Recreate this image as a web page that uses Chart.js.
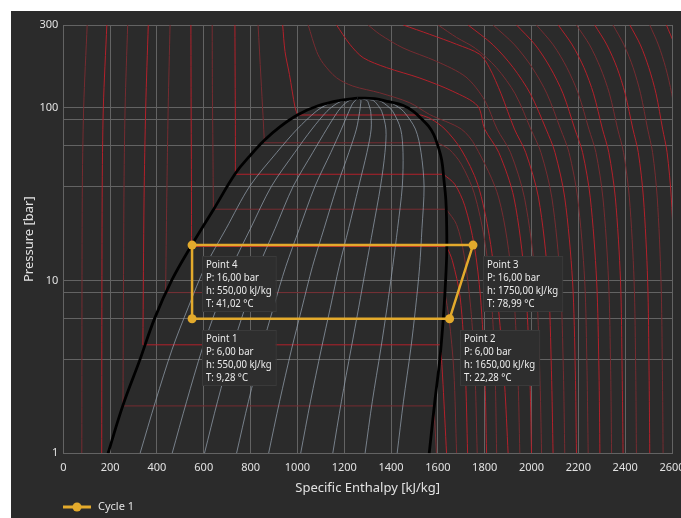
<!DOCTYPE html>
<html><head><meta charset="utf-8">
<script src="https://cdn.jsdelivr.net/npm/chart.js@4/dist/chart.umd.min.js"></script>
<style>
html,body{margin:0;padding:0;background:#fff;}
#wrap{position:absolute;left:11px;top:11px;width:670px;height:507px;background:#2b2b2b;}
canvas{display:block;}
</style></head><body>
<div id="wrap"><canvas id="c" width="670" height="507"></canvas></div>
<script>
// ---- axis ticks ----
const xMin = 0, xMax = 2600, xStep = 200;
const yGridValues = [1, 3.5, 6, 8.5, 10, 35, 60, 85, 100, 300];
const yLabelValues = [1, 10, 100, 300];

// ---- refrigeration cycle ----
const pointNames = ['Point 1', 'Point 2', 'Point 3', 'Point 4'];
const cycleH = [550, 1650, 1750, 550];
const cycleP = [6, 6, 16, 16];
const cycleT = [9.28, 22.28, 78.99, 41.02];

// ---- saturation dome [h, P] ----
const domeLiquid = [[191,1],[255,1.9],[327,3.47],[391,6.07],[464,10.07],[549,16.05],[643,25.9],[737,41.9],[797,52.5],[861,65],[925,77.3],[1002,90.8],[1088,102.3],[1182,110.1],[1258,113.3]];
const domeVapor = [[1258,113.3],[1330,112.5],[1390,108],[1450,103],[1495,95],[1530,86],[1560,78],[1582,70],[1600,60],[1616,49.8],[1626,38],[1634,29.2],[1637,22.4],[1638,15],[1633,10],[1623,6],[1608,3.47],[1587,2],[1563,1]];

// ---- vapour quality lines [h, P] ----
const q10 = [[328,1],[394,2],[465,4],[534,7],[606,12],[696,20],[796,35],[912,55],[999,75],[1080,95],[1132,105],[1175,110],[1258,113.3]];
const q20 = [[465,1],[527,2],[593,4],[656,7],[721,12],[800,20],[889,35],[989,55],[1062,75],[1126,95],[1166,105],[1199,110],[1258,113.3]];
const q30 = [[603,1],[659,2],[720,4],[777,7],[835,12],[905,20],[982,35],[1066,55],[1125,75],[1173,95],[1201,105],[1224,110],[1258,113.3]];
const q40 = [[740,1],[791,2],[847,4],[898,7],[950,12],[1009,20],[1075,35],[1143,55],[1188,75],[1220,95],[1235,105],[1248,110],[1258,113.3]];
const q50 = [[877,1],[924,2],[975,4],[1020,7],[1064,12],[1114,20],[1169,35],[1220,55],[1252,75],[1266,95],[1270,105],[1271,110],[1258,113.3]];
const q60 = [[1014,1],[1056,2],[1102,4],[1141,7],[1178,12],[1219,20],[1262,35],[1297,55],[1315,75],[1313,95],[1304,105],[1297,110],[1258,113.3]];
const q70 = [[1151,1],[1188,2],[1229,4],[1262,7],[1293,12],[1323,20],[1355,35],[1374,55],[1378,75],[1360,95],[1339,105],[1322,110],[1258,113.3]];
const q80 = [[1289,1],[1320,2],[1356,4],[1383,7],[1407,12],[1428,20],[1448,35],[1451,55],[1441,75],[1407,95],[1373,105],[1346,110],[1258,113.3]];
const q90 = [[1426,1],[1453,2],[1484,4],[1505,7],[1522,12],[1532,20],[1541,35],[1528,55],[1504,75],[1453,95],[1408,105],[1371,110],[1258,113.3]];

// ---- isotherms [h, P]  (L = liquid, S = saturated, V = vapour) ----
const tm60 = [[79,1],[81,30],[87,100],[102,300]];
const tm40 = [[164,1],[166,30],[171,100],[186,300]];
const tm20L = [[255,1.88],[259,30],[264,100],[275,300]];
const tm20S = [[255,1.88],[1583,1.88]];
const tm20V = [[1583,1.88],[1594,1]];
const t0L = [[340,4.24],[345,30],[352,100],[363,300]];
const t0S = [[340,4.24],[1612,4.24]];
const t0V = [[1612,4.24],[1622,2.5],[1637,1]];
const t20L = [[437,8.5],[442,30],[448,100],[456,300]];
const t20S = [[437,8.5],[1630,8.5]];
const t20V = [[1630,8.5],[1648,6],[1668,3],[1680,1]];
const t40L = [[548,15.7],[547,50],[546,100],[545,300]];
const t40S = [[548,15.7],[1638,15.7]];
const t40V = [[1638,15.7],[1662,13],[1695,8],[1717,3],[1727,1]];
const t60L = [[641,25.8],[639,60],[637,120],[636,300]];
const t60S = [[641,25.8],[1636,25.8]];
const t60V = [[1636,25.8],[1680,21],[1712,14],[1740,7],[1758,3],[1768,1]];
const t80L = [[735,41.1],[735,80],[734,150],[733,300]];
const t80S = [[735,41.1],[1624,41.1]];
const t80V = [[1624,41.1],[1672,36],[1715,27],[1755,16],[1782,8],[1800,3],[1808,1]];
const t100L = [[859,62.5],[853,90],[844,150],[832,300]];
const t100S = [[859,62.5],[1600,62.5]];
const t100V = [[1600,62.5],[1650,57],[1700,47],[1755,32],[1800,17],[1828,8],[1844,3],[1851,1]];
const t120L = [[1001,90.5],[990,100],[966,155],[947,211],[937,300]];
const t120S = [[1001,90.5],[1528,90.5]];
const t120V = [[1528,90.5],[1570,86],[1630,75],[1700,57],[1770,36],[1820,18],[1858,7],[1885,2.5],[1900,1]];
const t140 = [[1950,1],[1941,3],[1918,10],[1860,30],[1760,60],[1700,75],[1565,91],[1480,106.5],[1352,121.5],[1237,133],[1167,148.6],[1110,180],[1082,211],[1046,300]];
const t160 = [[2000,1],[1992,3],[1972,10],[1925,30],[1860,55],[1800,75],[1770,102],[1664,124],[1523,148],[1381,170],[1281,194],[1224,232],[1167,300]];
const t180 = [[2043,1],[2035,3],[2018,10],[1970,30],[1910,55],[1853,75],[1800,110],[1720,150],[1594,185],[1451,221],[1352,265],[1302,300]];
const t200 = [[2092,1],[2085,3],[2071,10],[2030,30],[1975,55],[1927,75],[1870,120],[1820,170],[1779,203],[1680,232],[1565,265],[1452,300]];
const t220 = [[2142,1],[2136,3],[2123,10],[2087,30],[2040,55],[1997,75],[1930,120],[1850,170],[1760,220],[1680,254],[1601,300]];
const t240 = [[2192,1],[2187,3],[2175,10],[2142,30],[2100,55],[2062,75],[1995,120],[1922,170],[1836,230],[1729,300]];
const t260 = [[2242,1],[2237,3],[2227,10],[2197,30],[2160,55],[2124,75],[2066,120],[2003,170],[1928,230],[1836,300]];
const t280 = [[2292,1],[2288,3],[2278,10],[2251,30],[2218,55],[2185,75],[2135,120],[2080,170],[2016,230],[1936,300]];
const t300 = [[2342,1],[2338,3],[2329,10],[2305,30],[2275,55],[2245,75],[2200,120],[2151,170],[2093,230],[2021,300]];
const t320 = [[2391,1],[2387,3],[2380,10],[2358,30],[2330,55],[2303,75],[2265,120],[2224,170],[2174,230],[2114,300]];
const t340 = [[2448,1],[2445,3],[2438,10],[2418,30],[2393,55],[2368,75],[2333,120],[2294,170],[2248,230],[2192,300]];
const t360 = [[2505,1],[2502,3],[2496,10],[2478,30],[2456,55],[2433,75],[2400,120],[2365,170],[2322,230],[2270,300]];
const t380 = [[2562,1],[2559,3],[2553,10],[2537,30],[2517,55],[2496,75],[2466,120],[2434,170],[2395,230],[2348,300]];
const t400 = [[2620,1],[2618,3],[2612,10],[2597,30],[2579,55],[2560,75],[2532,120],[2501,170],[2465,230],[2420,300]];
const t420 = [[2680,1],[2678,3],[2673,10],[2658,30],[2641,55],[2623,75],[2599,120],[2573,170],[2542,230],[2505,300]];
const t440 = [[2740,1],[2738,3],[2733,10],[2719,30],[2703,55],[2685,75],[2663,120],[2639,170],[2611,230],[2576,300]];

const isoStrong = [tm40, t0L, t0S, t0V, t40L, t40S, t40V, t80L, t80S, t80V, t120L, t120S, t120V, t160, t200, t240, t280, t320, t360, t400, t440];
const isoFaint = [tm60, tm20L, tm20S, tm20V, t20L, t20S, t20V, t60L, t60S, t60V, t100L, t100S, t100V, t140, t180, t220, t260, t300, t340, t380, t420];
const qualityLines = [q10, q20, q30, q40, q50, q60, q70, q80, q90];

// ---- styling ----
const FONT = '"Noto Sans", "Open Sans", sans-serif';
const BG = '#2b2b2b';
const GRID = '#636363';
const TEXT = '#e2e2e2';
const YELLOW = '#e3aa2c';

const toXY = arr => arr.map(([h, p]) => ({x: h, y: p}));
const isStraight = arr => arr.length === 2;

const datasets = [];
datasets.push({
  label: 'Cycle 1',
  data: toXY(cycleH.map((h, i) => [h, cycleP[i]]).concat([[cycleH[0], cycleP[0]]])),
  borderColor: YELLOW, backgroundColor: YELLOW, borderWidth: 2.5,
  pointRadius: [4.5, 4.5, 4.5, 4.5, 0], pointHoverRadius: 0, pointBorderWidth: 0,
  showLine: true, tension: 0, order: 0
});
[domeLiquid, domeVapor].forEach(d => datasets.push({
  label: 'dome', data: toXY(d), borderColor: '#000', borderWidth: 2.8,
  pointRadius: 0, showLine: true, tension: 0.4, order: 1
}));
qualityLines.forEach(d => datasets.push({
  label: 'q', data: toXY(d), borderColor: 'rgba(150,162,176,0.72)', borderWidth: 1,
  pointRadius: 0, showLine: true, tension: 0.3, order: 2
}));
isoFaint.forEach(d => datasets.push({
  label: 't', data: toXY(d), borderColor: '#762c31', borderWidth: 1,
  pointRadius: 0, showLine: true, tension: isStraight(d) ? 0 : 0.3, order: 4
}));
isoStrong.forEach(d => datasets.push({
  label: 't', data: toXY(d), borderColor: '#b3212b', borderWidth: 1,
  pointRadius: 0, showLine: true, tension: isStraight(d) ? 0 : 0.3, order: 3
}));

const fmt = v => v.toFixed(2).replace('.', ',');
const SQUEEZE = 0.87;

const bgPlugin = {
  id: 'bg',
  beforeDraw(chart) {
    const {ctx} = chart;
    ctx.save(); ctx.fillStyle = BG; ctx.fillRect(0, 0, chart.width, chart.height); ctx.restore();
  }
};

const labelPlugin = {
  id: 'pointLabels',
  afterDatasetsDraw(chart) {
    const {ctx, scales: {x, y}} = chart;
    ctx.save();
    ctx.font = '11px ' + FONT;
    for (let i = 0; i < cycleH.length; i++) {
      const px = x.getPixelForValue(cycleH[i]);
      const py = y.getPixelForValue(cycleP[i]);
      const lines = [pointNames[i], 'P: ' + fmt(cycleP[i]) + ' bar', 'h: ' + fmt(cycleH[i]) + ' kJ/kg', 'T: ' + fmt(cycleT[i]) + ' °C'];
      const w = Math.max(...lines.map(s => ctx.measureText(s).width)) * SQUEEZE + 8;
      const bx = Math.round(px + 10), by = Math.round(py + 11), bh = 55;
      ctx.fillStyle = '#2e2e2e';
      ctx.fillRect(bx, by, w, bh);
      ctx.strokeStyle = '#3a3a3a'; ctx.lineWidth = 1;
      ctx.strokeRect(bx + 0.5, by + 0.5, w, bh);
      ctx.fillStyle = '#ececec'; ctx.textBaseline = 'middle'; ctx.textAlign = 'left';
      lines.forEach((s, j) => {
        ctx.save();
        ctx.translate(bx + 4, by + 9 + j * 13);
        ctx.scale(SQUEEZE, 1);
        ctx.fillText(s, 0, 0);
        ctx.restore();
      });
    }
    ctx.restore();
  },
  afterDraw(chart) {
    const {ctx, chartArea: a} = chart;
    ctx.save();
    ctx.fillStyle = TEXT;
    ctx.font = '13px ' + FONT;
    ctx.textAlign = 'center'; ctx.textBaseline = 'middle';
    ctx.fillText('Specific Enthalpy [kJ/kg]', (a.left + a.right) / 2, 477);
    ctx.save();
    ctx.translate(18, (a.top + a.bottom) / 2);
    ctx.rotate(-Math.PI / 2);
    ctx.fillText('Pressure [bar]', 0, 0);
    ctx.restore();
    const ly = 496;
    ctx.strokeStyle = YELLOW; ctx.lineWidth = 3;
    ctx.beginPath(); ctx.moveTo(52, ly); ctx.lineTo(80, ly); ctx.stroke();
    ctx.fillStyle = YELLOW;
    ctx.beginPath(); ctx.arc(66, ly, 4.5, 0, Math.PI * 2); ctx.fill();
    ctx.fillStyle = TEXT; ctx.font = '11px ' + FONT; ctx.textAlign = 'left';
    ctx.fillText('Cycle 1', 87, ly);
    ctx.restore();
  }
};

new Chart(document.getElementById('c'), {
  type: 'scatter',
  data: {datasets},
  options: {
    responsive: false, animation: false,
    layout: {padding: {top: 14, right: 9, left: 0, bottom: 0}},
    plugins: {legend: {display: false}, tooltip: {enabled: false}},
    events: [],
    scales: {
      x: {
        type: 'linear', min: xMin, max: xMax,
        ticks: {stepSize: xStep, color: TEXT, font: {family: FONT, size: 11}, padding: 8, maxRotation: 0,
                callback: v => String(v)},
        grid: {color: GRID, lineWidth: 1, drawTicks: false},
        border: {color: GRID},
        afterFit(s) { s.height = 64.7; s.paddingLeft = 0; s.paddingRight = 0; }
      },
      y: {
        type: 'logarithmic', min: 1, max: 300,
        afterBuildTicks(s) { s.ticks = yGridValues.map(v => ({value: v})); },
        ticks: {
          color: TEXT, font: {family: FONT, size: 11}, padding: 5, autoSkip: false,
          callback: v => yLabelValues.includes(v) ? String(v) : ''
        },
        grid: {color: GRID, lineWidth: 1, drawTicks: false},
        border: {color: GRID},
        afterFit(s) { s.width = 52.3; s.paddingTop = 0; s.paddingBottom = 0; }
      }
    }
  },
  plugins: [bgPlugin, labelPlugin]
});
</script></body></html>
